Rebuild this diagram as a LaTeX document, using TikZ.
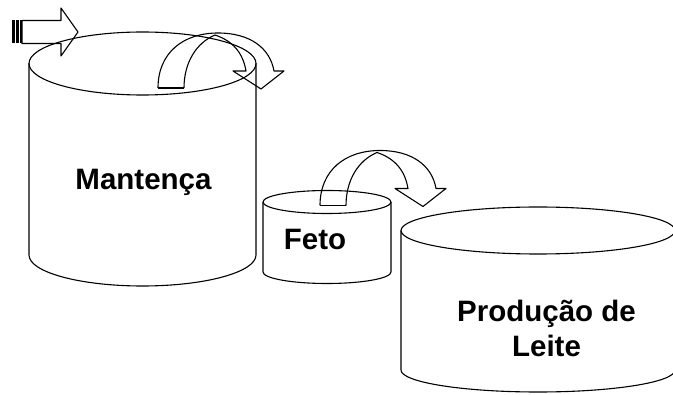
\documentclass[tikz,border=0pt]{standalone}
\usepackage{fontspec}
\setmainfont{Liberation Sans}
\begin{document}
\begin{tikzpicture}[x=1pt,y=-1pt,line width=1.1pt,line join=round,
  label/.style={font=\fontsize{29.5}{34.5}\selectfont\bfseries,align=center,inner sep=0pt,anchor=base}]
\useasboundingbox (0,0) rectangle (673,395);
\clip (0,0) rectangle (673,395);

% Cylinder: Mantença
\draw (142.5,63.5) ellipse [x radius=113.5pt, y radius=31.5pt];
\draw (29,63.5) -- (29,255) arc [start angle=180, end angle=360, x radius=113.5pt, y radius=31pt] -- (256,63.5);

% Cylinder: Feto
\draw (327,202) ellipse [x radius=64pt, y radius=11.5pt];
\draw (263,202) -- (263,272) arc [start angle=180, end angle=360, x radius=64pt, y radius=11.5pt] -- (391,202);

% Cylinder: Produção de Leite
\draw (538,230.5) ellipse [x radius=137pt, y radius=23.5pt];
\draw (401,230.5) -- (401,370) arc [start angle=180, end angle=360, x radius=137pt, y radius=22pt] -- (675,230.5);

% Labels
\node[label] (mant) at (143.5,190) {Mantença};
\node[label] (feto) at (315,250) {Feto};
\node[label] (prod) at (546.5,322) {Produção de};
\node[label] (leite) at (546.5,356.5) {Leite};

% Striped input arrow
\draw (22,20.5) -- (61,20.5) -- (61,8) -- (78,32) -- (61,56) -- (61,43.5) -- (22,43.5) -- cycle;
\fill (12,20.5) rectangle (14.5,43.5);
\fill (16,20.5) rectangle (18.5,43.5);
\fill (20,20.5) rectangle (22,43.5);

% Curved down arrow, drawn at the origin of its own frame
\tikzset{curvedown/.pic={
  \draw (0,0) .. controls (0,-35) and (25,-55) .. (60,-55)
        .. controls (92,-55) and (112,-40) .. (116,-17)
        -- (126,-17) -- (103,1) -- (75,-17) -- (88,-17)
        .. controls (85,-35) and (75,-47) .. (57,-53);
  \draw (26,0) .. controls (26,-25) and (38,-45) .. (57,-53);
  \draw (0,0) -- (26,0);
}}
\pic at (158,88) {curvedown};
\pic at (320,205.5) {curvedown};
\end{tikzpicture}
\end{document}
